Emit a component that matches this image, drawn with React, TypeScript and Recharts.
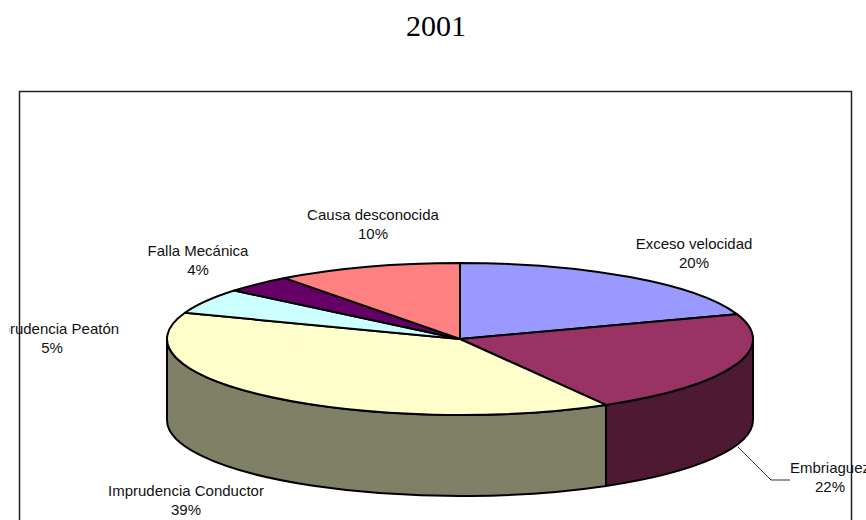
import { PieChart, Pie } from "recharts";

const names = ["Exceso velocidad", "Embriaguez", "Imprudencia Conductor", "Imprudencia Peatón", "Falla Mecánica", "Causa desconocida"];
const values = [19.7, 22, 38.9, 5.4, 3.8, 10.2];
const topColors = ["#9999FF", "#993366", "#FFFFCC", "#CCFFFF", "#660066", "#FF8080"];
const wallColors = ["#4D4D80", "#4D1933", "#808066", "#668080", "#330033", "#804040"];

const data = names.map((name, i) => ({ name, value: values[i] }));

// pie geometry on the page
const CX = 460;
const CY = 339;
const RX = 293;
const RY = 76;
const DEPTH = 81;

// label centres, placed by hand like in the original
const labelPos = [
  { x: 694, y: 249 },
  { x: 830, y: 473 },
  { x: 186, y: 496 },
  { x: 52, y: 334 },
  { x: 198, y: 256 },
  { x: 373, y: 220 },
];

const rad = (a: number) => (a * Math.PI) / 180;
const px = (a: number) => CX + RX * Math.cos(rad(a));
const py = (a: number) => CY - RY * Math.sin(rad(a));

const TopSlice = (props: any) => {
  const { startAngle, endAngle, index } = props;
  const large = Math.abs(startAngle - endAngle) > 180 ? 1 : 0;
  const d = `M${CX} ${CY} L${px(startAngle)} ${py(startAngle)} A${RX} ${RY} 0 ${large} 1 ${px(endAngle)} ${py(endAngle)} Z`;
  return <path d={d} fill={topColors[index]} stroke="#000" strokeWidth={2} strokeLinejoin="round" />;
};

// only the part of the slice facing the viewer gets a side wall
const WallSlice = (props: any) => {
  const { startAngle, endAngle, index } = props;
  const s = Math.min(startAngle, 0);
  const e = Math.max(endAngle, -180);
  if (s <= e) return <g />;
  const d =
    `M${px(s)} ${py(s)} A${RX} ${RY} 0 0 1 ${px(e)} ${py(e)} ` +
    `L${px(e)} ${py(e) + DEPTH} A${RX} ${RY} 0 0 0 ${px(s)} ${py(s) + DEPTH} Z`;
  return <path d={d} fill={wallColors[index]} stroke="#000" strokeWidth={2} strokeLinejoin="round" />;
};

const SliceLabel = (props: any) => {
  const { index, percent } = props;
  const p = labelPos[index];
  const style = { fontFamily: "Liberation Sans, Arial, sans-serif", fontSize: 15, fill: "#111" };
  return (
    <g clipPath="url(#labelClip)">
      {index === 1 && <polyline points="738,447 771,480 790,480" fill="none" stroke="#333" strokeWidth={1} />}
      <text x={p.x} y={p.y} textAnchor="middle" style={style}>{names[index]}</text>
      <text x={p.x} y={p.y + 19} textAnchor="middle" style={style}>{`${Math.round(percent * 100)}%`}</text>
    </g>
  );
};

export default function App() {
  return (
    <div style={{ position: "absolute", left: 0, top: 0, width: 866, height: 520, background: "#fff" }}>
      <PieChart width={866} height={520} margin={{ top: 0, right: 0, bottom: 0, left: 0 }}>
        <defs>
          <clipPath id="labelClip">
            <rect x={9} y={0} width={857} height={520} />
          </clipPath>
        </defs>
        <text x={436} y={36} textAnchor="middle" style={{ fontFamily: "Liberation Serif, Times New Roman, serif", fontSize: 30, fill: "#000" }}>2001</text>
        <path d="M19.5 520 V91.5 H851.5 V520" fill="none" stroke="#222" strokeWidth={1.5} />
        <Pie data={data} dataKey="value" nameKey="name" cx={CX} cy={CY} outerRadius={RX}
          startAngle={90} endAngle={-270} isAnimationActive={false} shape={WallSlice} label={false} labelLine={false} />
        <Pie data={data} dataKey="value" nameKey="name" cx={CX} cy={CY} outerRadius={RX}
          startAngle={90} endAngle={-270} isAnimationActive={false} shape={TopSlice} label={SliceLabel} labelLine={false} />
      </PieChart>
    </div>
  );
}
